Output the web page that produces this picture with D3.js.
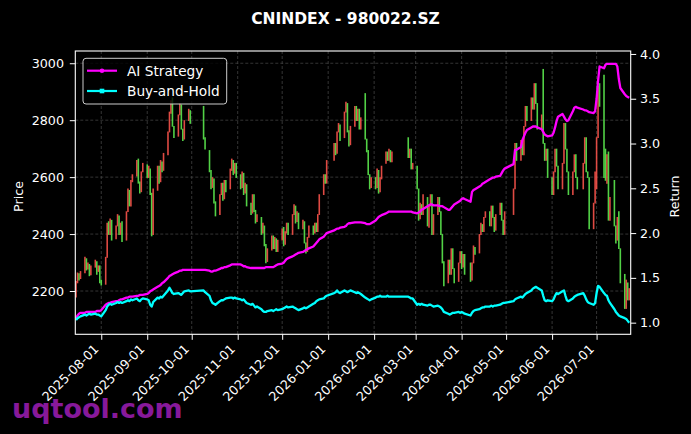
<!DOCTYPE html>
<html>
<head>
<meta charset="utf-8">
<script src="https://cdn.jsdelivr.net/npm/d3@7"></script>
<style>
body{margin:0;background:#000;}
svg{display:block;}
text{font-family:"DejaVu Sans",sans-serif;}
</style>
</head>
<body>
<div id="graph1"></div>
<script>
// exchange days: weekdays from first_day to last_day, minus these holidays
var first_day = "2025-07-15";
var last_day = "2026-07-23";
var holidays = ["2025-10-01","2025-10-02","2025-10-03","2025-10-06","2025-10-07","2025-10-08",
	"2026-01-01","2026-01-02","2026-02-16","2026-02-17","2026-02-18","2026-02-19","2026-02-20","2026-02-23",
	"2026-04-06","2026-05-01","2026-05-04","2026-05-05","2026-06-19"];

// daily open / close of 980022.SZ (one row per month)
var opens = [
	2180,2230,2262,2245,2265,2315,2278,2295,2258,2285,2305,2270,2290,
	2240,2225,2320,2445,2400,2450,2385,2430,2465,2400,2445,2380,2480,2555,2500,2585,2605,2665,2585,2550,2620,
	2645,2600,2630,2545,2400,2555,2640,2585,2655,2625,2680,2760,2825,2880,2780,2745,2820,2855,2770,2735,2800,2835,
	2850,2740,2695,2625,2565,2595,2515,2470,2540,2580,2525,2590,2560,2625,2660,2615,2650,
	2610,2565,2615,2545,2575,2510,2475,2540,2485,2445,2460,2405,2430,2365,2305,2345,2395,2350,2385,2340,
	2380,2425,2365,2405,2440,2400,2470,2500,2445,2475,2420,2445,2370,2340,2390,2430,2405,2440,2410,2470,2540,2610,2580,
	2660,2720,2685,2760,2785,2740,2830,2860,2765,2715,2780,2850,2800,2840,2770,2895,2735,2695,2610,2565,
	2600,2565,2625,2550,2595,2650,2690,2660,2695,2655,2740,2670,2700,2630,
	2640,2560,2455,2505,2470,2530,2425,2500,2540,2400,2470,2530,2480,2400,2305,2230,2310,2260,2350,2280,2235,2300,
	2340,2285,2330,2300,2240,2300,2355,2335,2400,2435,2410,2460,2480,2430,2500,2460,2415,2470,2510,2450,2400,
	2470,2560,2720,2660,2730,2680,2780,2850,2800,2880,2840,2930,2860,2770,2980,2720,2660,2700,
	2600,2540,2620,2700,2640,2560,2650,2790,2700,2620,2540,2620,2680,2600,2560,2650,2740,2620,2600,2420,2510,
	2560,2740,2930,2960,2700,2580,2690,2450,2590,2430,2380,2480,2350,2260,2140,2230,2170
];
var closes = [
	2235,2265,2240,2270,2320,2275,2300,2255,2290,2310,2260,2290,2230,
	2222,2320,2440,2400,2455,2380,2430,2470,2400,2440,2375,2480,2560,2500,2590,2610,2660,2580,2545,2620,2650,
	2600,2640,2540,2395,2560,2640,2580,2660,2620,2685,2760,2830,2870,2780,2740,2820,2860,2770,2730,2800,2840,2790,
	2735,2700,2620,2560,2600,2510,2465,2540,2580,2520,2590,2550,2630,2665,2610,2650,2600,
	2560,2620,2540,2580,2500,2470,2540,2480,2440,2470,2400,2440,2360,2300,2350,2395,2350,2390,2340,2380,
	2420,2360,2410,2440,2400,2470,2505,2440,2480,2420,2450,2370,2335,2390,2430,2400,2440,2410,2470,2540,2610,2580,2660,
	2720,2680,2760,2790,2730,2830,2865,2760,2710,2780,2850,2800,2840,2770,2810,2735,2690,2610,2560,2600,
	2560,2630,2545,2600,2640,2690,2660,2700,2655,2690,2670,2700,2630,2650,
	2560,2450,2510,2470,2540,2430,2500,2540,2400,2470,2530,2480,2400,2300,2220,2310,2260,2350,2280,2230,2300,2340,
	2280,2330,2260,2235,2300,2360,2330,2400,2440,2410,2460,2480,2430,2500,2460,2410,2470,2510,2450,2400,2480,
	2560,2720,2660,2730,2680,2780,2850,2800,2880,2840,2930,2860,2770,2820,2720,2660,2700,2600,
	2540,2620,2700,2640,2560,2650,2790,2700,2620,2540,2620,2680,2600,2560,2650,2740,2620,2600,2420,2510,2620,
	2740,2920,2850,2600,2590,2680,2450,2530,2430,2370,2460,2350,2230,2140,2240,2170,2210
];

// cumulative return of the two strategies, same days
var ai_return = [
	1.05,1.08,1.10,1.11,1.11,1.12,1.12,1.12,1.12,1.12,1.13,1.13,1.13,
	1.14,1.20,1.21,1.22,1.22,1.23,1.24,1.24,1.25,1.26,1.26,1.28,1.28,1.29,1.29,1.29,1.30,1.30,1.31,1.31,1.31,
	1.32,1.33,1.35,1.36,1.37,1.40,1.41,1.42,1.44,1.45,1.50,1.52,1.53,1.54,1.55,1.57,1.58,1.58,1.59,1.59,1.59,1.59,
	1.59,1.59,1.58,1.57,1.57,1.58,1.58,1.60,1.61,1.61,1.62,1.62,1.64,1.65,1.65,1.65,1.65,
	1.65,1.64,1.63,1.63,1.62,1.61,1.61,1.61,1.61,1.61,1.61,1.61,1.61,1.62,1.62,1.62,1.62,1.63,1.64,1.65,
	1.66,1.67,1.69,1.71,1.72,1.74,1.75,1.76,1.77,1.78,1.79,1.80,1.81,1.82,1.83,1.85,1.87,1.89,1.91,1.93,1.96,1.98,2.00,
	2.03,2.04,2.05,2.05,2.06,2.07,2.08,2.10,2.11,2.11,2.12,2.12,2.12,2.12,2.12,2.11,2.10,2.10,2.10,2.11,
	2.14,2.16,2.18,2.19,2.20,2.22,2.23,2.24,2.24,2.24,2.24,2.24,2.24,2.23,
	2.22,2.23,2.24,2.26,2.27,2.30,2.31,2.32,2.32,2.31,2.31,2.30,2.30,2.30,2.29,2.26,2.26,2.28,2.30,2.32,2.35,2.36,
	2.38,2.39,2.38,2.35,2.46,2.48,2.49,2.52,2.53,2.55,2.56,2.57,2.60,2.61,2.62,2.62,2.63,2.64,2.67,2.70,2.72,
	2.77,2.93,2.93,2.96,3.04,3.08,3.12,3.15,3.18,3.19,3.19,3.19,3.18,3.16,3.13,3.10,3.09,3.08,
	3.09,3.12,3.18,3.25,3.30,3.33,3.30,3.27,3.25,3.26,3.36,3.40,3.41,3.40,3.38,3.37,3.37,3.36,3.35,3.34,3.36,
	3.50,3.70,3.86,3.84,3.88,3.89,3.89,3.89,3.89,3.89,3.86,3.72,3.62,3.55,3.53,3.52,3.51
];
var bh_return = [
	1.03,1.05,1.06,1.07,1.09,1.08,1.09,1.10,1.09,1.10,1.09,1.09,1.08,
	1.07,1.14,1.18,1.20,1.21,1.20,1.22,1.23,1.22,1.23,1.22,1.24,1.25,1.24,1.26,1.25,1.27,1.25,1.24,1.26,1.27,
	1.26,1.25,1.20,1.18,1.23,1.28,1.27,1.29,1.28,1.30,1.36,1.39,1.36,1.33,1.32,1.33,1.32,1.31,1.33,1.35,1.36,1.35,
	1.36,1.34,1.30,1.25,1.22,1.21,1.20,1.24,1.25,1.25,1.26,1.27,1.28,1.28,1.27,1.28,1.27,
	1.26,1.25,1.26,1.24,1.22,1.20,1.21,1.19,1.17,1.18,1.15,1.13,1.12,1.12,1.13,1.14,1.13,1.14,1.15,1.14,
	1.15,1.16,1.17,1.18,1.17,1.18,1.17,1.16,1.15,1.14,1.16,1.17,1.16,1.17,1.18,1.21,1.22,1.24,1.25,1.26,1.27,1.29,1.30,
	1.33,1.34,1.36,1.34,1.33,1.36,1.35,1.34,1.35,1.36,1.34,1.33,1.34,1.33,1.32,1.28,1.27,1.26,1.25,1.26,
	1.28,1.29,1.29,1.30,1.29,1.29,1.30,1.29,1.29,1.29,1.29,1.28,1.27,1.27,
	1.20,1.21,1.20,1.21,1.20,1.19,1.20,1.20,1.19,1.18,1.19,1.18,1.17,1.15,1.12,1.10,1.09,1.10,1.11,1.11,1.12,1.11,
	1.12,1.11,1.10,1.08,1.11,1.13,1.14,1.15,1.16,1.17,1.17,1.18,1.18,1.19,1.18,1.19,1.19,1.20,1.21,1.22,1.22,
	1.24,1.26,1.27,1.29,1.28,1.30,1.32,1.33,1.36,1.38,1.39,1.40,1.39,1.36,1.30,1.25,1.24,1.25,
	1.24,1.26,1.30,1.33,1.32,1.35,1.36,1.30,1.25,1.24,1.27,1.29,1.30,1.31,1.33,1.30,1.26,1.23,1.22,1.20,1.22,
	1.33,1.41,1.40,1.33,1.31,1.30,1.25,1.22,1.15,1.12,1.10,1.08,1.07,1.05,1.04,1.02,1.00
];

var price_ticks = [2200,2400,2600,2800,3000];
var return_ticks = [1.0,1.5,2.0,2.5,3.0,3.5,4.0];
var series_names = ["AI Strategy","Buy-and-Hold"];
var series_colors = ["#ff00ff","#00ffff"];

function get_days(){
	var parse = d3.timeParse("%Y-%m-%d");
	var fmt = d3.timeFormat("%Y-%m-%d");
	var all = d3.timeDay.range(parse(first_day), d3.timeDay.offset(parse(last_day),1));
	return all.filter(function(d){
		return d.getDay()!=0 && d.getDay()!=6 && holidays.indexOf(fmt(d))<0;
	});
}

function make_chart(){
	var W = 691, H = 434;
	var left = 75.3, right = 630.7, top = 51, bottom = 334.3;
	var days = get_days();
	var n = Math.min(days.length, opens.length, closes.length, ai_return.length, bh_return.length);
	if(n!=days.length) console.log("length mismatch", days.length, opens.length, closes.length, ai_return.length, bh_return.length);

	var xScale = d3.scaleTime()
		.domain([new Date(2025,6,14,12), new Date(2026,6,24)])
		.range([left,right]);
	var yPrice = d3.scaleLinear().domain([2048,3043]).range([bottom,top]);
	var yRet = d3.scaleLinear().domain([0.87,4.033]).range([bottom,top]);
	var month_ticks = d3.timeMonth.range(new Date(2025,7,1), new Date(2026,6,2));

	var svg = d3.select("#graph1").append("svg")
		.attr("width",W).attr("height",H);
	svg.append("rect").attr("width",W).attr("height",H).attr("fill","#000");

	// watermark sits under the tick labels
	svg.append("text")
		.attr("x",12).attr("y",418)
		.attr("font-size","27px").attr("font-weight","bold")
		.attr("fill","#87199a")
		.text("uqtool.com");

	// grid
	svg.append("g").selectAll("line").data(month_ticks).enter().append("line")
		.attr("x1",function(d){return xScale(d)}).attr("x2",function(d){return xScale(d)})
		.attr("y1",top).attr("y2",bottom)
		.attr("stroke","#4a4a4a").attr("stroke-width",0.7).attr("stroke-dasharray","3,2");
	svg.append("g").selectAll("line").data(price_ticks).enter().append("line")
		.attr("x1",left).attr("x2",right)
		.attr("y1",function(d){return yPrice(d)}).attr("y2",function(d){return yPrice(d)})
		.attr("stroke","#4a4a4a").attr("stroke-width",0.7).attr("stroke-dasharray","3,2");

	// candles: red up, green down
	var candles = d3.range(n);
	svg.append("g").selectAll("line").data(candles).enter().append("line")
		.attr("x1",function(i){return xScale(days[i])})
		.attr("x2",function(i){return xScale(days[i])})
		.attr("y1",function(i){return yPrice(Math.max(opens[i],closes[i]))})
		.attr("y2",function(i){return yPrice(Math.min(opens[i],closes[i]))+0.8})
		.attr("stroke",function(i){return closes[i]>=opens[i] ? "#f7524a" : "#5be84e"})
		.attr("stroke-opacity",0.9)
		.attr("stroke-width",1.6);

	// return lines on the right axis
	var rets = [ai_return, bh_return];
	rets.forEach(function(vals,k){
		var line = d3.line()
			.x(function(d,i){return xScale(days[i])})
			.y(function(d){return yRet(d)});
		svg.append("path")
			.datum(vals.slice(0,n))
			.attr("d",line)
			.attr("fill","none")
			.attr("stroke",series_colors[k])
			.attr("stroke-width",2.3)
			.attr("stroke-linejoin","round");
	});

	// axes
	var gx = svg.append("g")
		.attr("transform","translate(0,"+bottom+")")
		.call(d3.axisBottom(xScale).tickValues(month_ticks).tickFormat(d3.timeFormat("%Y-%m-%d")).tickSize(5.5).tickSizeOuter(0));
	gx.selectAll("text")
		.attr("y",0).attr("dy",0)
		.attr("text-anchor","end")
		.attr("transform","translate(-2.2,15.5) rotate(-45)");

	var gl = svg.append("g")
		.attr("transform","translate("+left+",0)")
		.call(d3.axisLeft(yPrice).tickValues(price_ticks).tickFormat(d3.format("d")).tickSize(5.5).tickPadding(5.8).tickSizeOuter(0));

	var gr = svg.append("g")
		.attr("transform","translate("+right+",0)")
		.call(d3.axisRight(yRet).tickValues(return_ticks).tickFormat(d3.format(".1f")).tickSize(5.5).tickPadding(3.8).tickSizeOuter(0));

	[gx,gl,gr].forEach(function(g){
		g.select(".domain").remove();
		g.selectAll("line").attr("stroke","#fff").attr("stroke-width",1);
		g.selectAll("text").attr("fill","#fff").attr("font-size","12.7px").attr("font-family","DejaVu Sans");
	});

	// frame
	svg.append("rect")
		.attr("x",left).attr("y",top)
		.attr("width",right-left).attr("height",bottom-top)
		.attr("fill","none").attr("stroke","#fff").attr("stroke-width",1.1);

	// titles
	svg.append("text")
		.attr("x",345.5).attr("y",23.5)
		.attr("text-anchor","middle")
		.attr("font-size","15.5px").attr("font-weight","bold")
		.attr("fill","#fff")
		.text("CNINDEX - 980022.SZ");
	svg.append("text")
		.attr("transform","translate(23,196.5) rotate(-90)")
		.attr("text-anchor","middle")
		.attr("font-size","12.7px").attr("fill","#fff")
		.text("Price");
	svg.append("text")
		.attr("transform","translate(679,196.5) rotate(-90)")
		.attr("text-anchor","middle")
		.attr("font-size","12.7px").attr("fill","#fff")
		.text("Return");

	// legend
	var lg = svg.append("g");
	lg.append("rect")
		.attr("x",83).attr("y",58.3).attr("width",143.7).attr("height",45.7)
		.attr("rx",3).attr("fill","#000").attr("fill-opacity",0.8)
		.attr("stroke","#cccccc").attr("stroke-width",1);
	var rows = [70.7, 91];
	series_names.forEach(function(name,k){
		lg.append("line")
			.attr("x1",87).attr("x2",117).attr("y1",rows[k]).attr("y2",rows[k])
			.attr("stroke",series_colors[k]).attr("stroke-width",2.2);
		if(k==0){
			lg.append("circle").attr("cx",102).attr("cy",rows[k]).attr("r",2.3).attr("fill",series_colors[k]);
		}else{
			lg.append("rect").attr("x",99.7).attr("y",rows[k]-2.3).attr("width",4.6).attr("height",4.6).attr("fill",series_colors[k]);
		}
		lg.append("text")
			.attr("x",127).attr("y",rows[k]+5)
			.attr("font-size","13.7px").attr("fill","#fff")
			.text(name);
	});
}

make_chart();
</script>
</body>
</html>
